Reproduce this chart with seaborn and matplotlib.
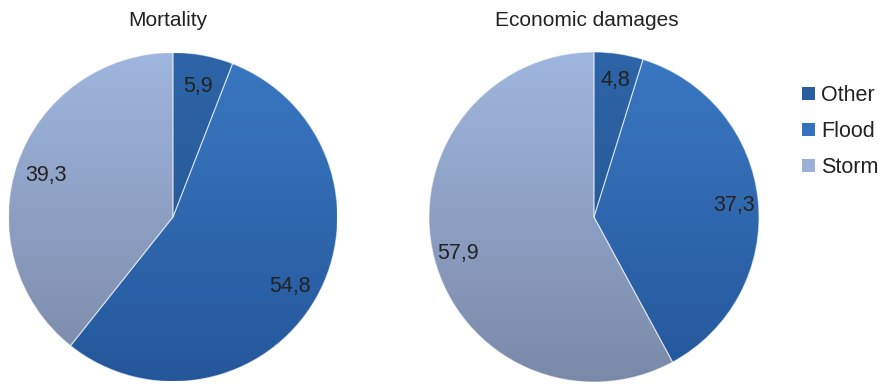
import numpy as np
import matplotlib
matplotlib.use("Agg")
import matplotlib.pyplot as plt
from matplotlib.colors import LinearSegmentedColormap
from matplotlib.patches import Rectangle
import seaborn as sns

# Share of disasters by type (%)
categories = ["Other", "Flood", "Storm"]
mortality = [5.9, 54.8, 39.3]
economic_damages = [4.8, 37.3, 57.9]
titles = ["Mortality", "Economic damages"]

sns.set_theme(style="white")
plt.rcParams["font.family"] = ["Liberation Sans", "DejaVu Sans"]

# Vertical shading per slice: (top colour, bottom colour)
shades = {
    "Other": ("#2d65a8", "#22508a"),
    "Flood": ("#3a78c2", "#24579a"),
    "Storm": ("#9fb6de", "#7a89a8"),
}
legend_colors = {"Other": "#2a5d9f", "Flood": "#3572bd", "Storm": "#9bb1d8"}

fig = plt.figure(figsize=(8.8, 3.85), dpi=100)

W, H = 880, 385
# (left, bottom, size) of each pie in pixels, and title x-centre in pixels
axes_px = [(8.5, 3.5, 329), (429, 3, 330)]
title_x = [167.5, 587]
label_dist = [0.82, 0.85]

for (left, bottom, size), values, title, tx, ld in zip(
        axes_px, [mortality, economic_damages], titles, title_x, label_dist):
    ax = fig.add_axes([left / W, bottom / H, size / W, size / H])
    wedges, _, autotexts = ax.pie(
        values,
        startangle=90,
        counterclock=False,
        autopct=lambda p: f"{p:.1f}".replace(".", ","),
        pctdistance=ld,
        wedgeprops=dict(edgecolor=(1, 1, 1, 0.5), linewidth=0.8),
        textprops=dict(fontsize=15.5, color="#222222"),
    )
    for w, cat in zip(wedges, categories):
        top, bot = shades[cat]
        cmap = LinearSegmentedColormap.from_list(cat, [bot, top])
        grad = np.linspace(1, 0, 256).reshape(-1, 1)
        im = ax.imshow(grad, cmap=cmap, vmin=0, vmax=1, extent=(-1, 1, -1, 1),
                       aspect="auto", zorder=0.5, interpolation="bilinear")
        im.set_clip_path(w)
        w.set_facecolor("none")
        w.set_zorder(1)
    for t in autotexts:
        t.set_zorder(3)
        t.set_verticalalignment("center_baseline")
    ax.set_xlim(-1, 1)
    ax.set_ylim(-1, 1)
    ax.set_aspect("equal")
    ax.axis("off")
    fig.text(tx / W, 1 - 20 / H, title, ha="center", va="center", fontsize=15, color="#222222")

handles = [Rectangle((0, 0), 1, 1, facecolor=legend_colors[c], edgecolor="none") for c in categories]
fig.legend(handles, categories, loc="upper left", bbox_to_anchor=(802 / W, 1 - 85 / H),
           frameon=False, fontsize=15.5, handlelength=0.6, handleheight=0.55,
           handletextpad=0.3, labelspacing=0.7, borderpad=0, borderaxespad=0,
           labelcolor="#222222")

fig.savefig("out.png", dpi=100)
